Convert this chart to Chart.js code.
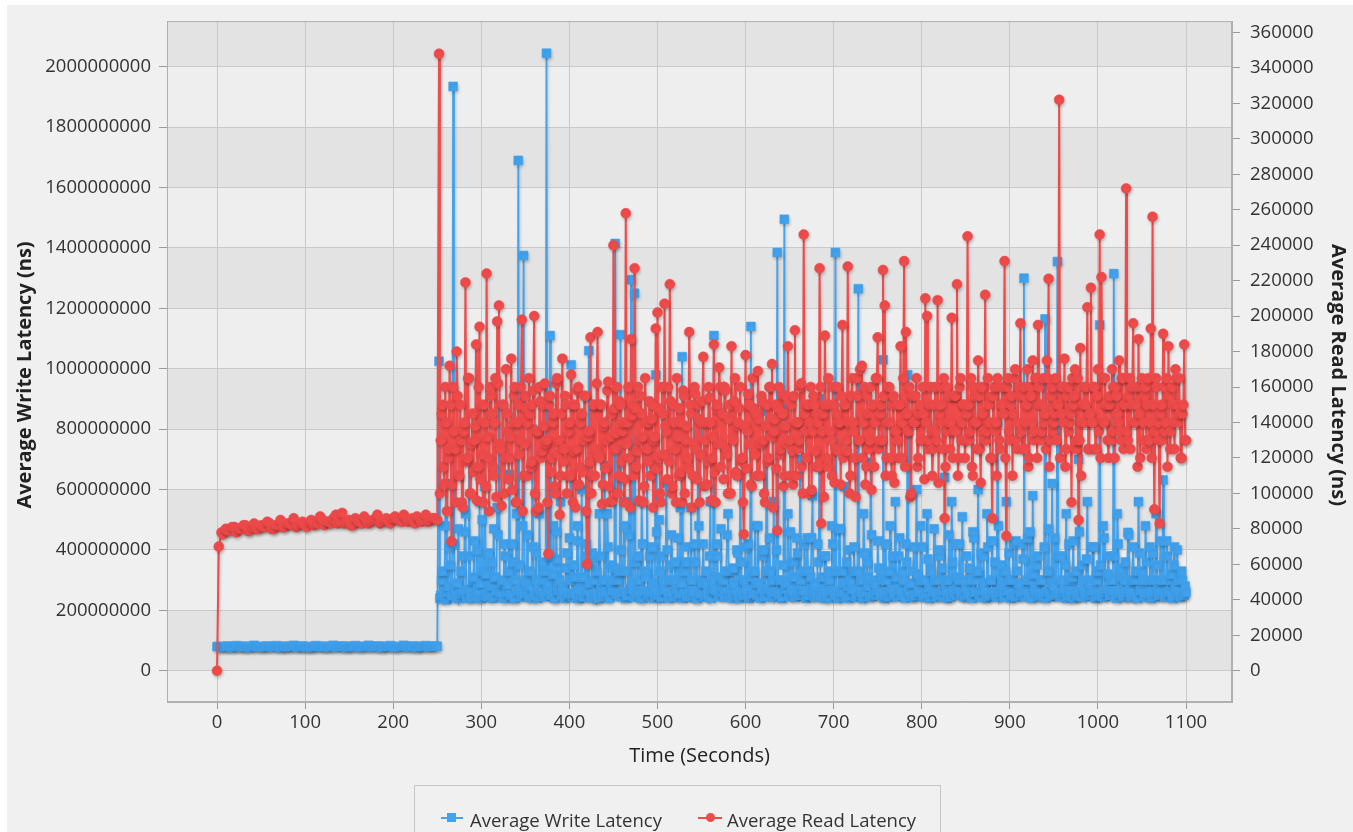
<!DOCTYPE html>
<html>
<head>
<meta charset="utf-8">
<script src="https://cdn.jsdelivr.net/npm/chart.js@4/dist/chart.umd.min.js"></script>
<style>
  html, body { margin: 0; padding: 0; background: #ffffff; overflow: hidden; }
  #wrap { position: relative; width: 1353px; height: 832px; }
  #c { position: absolute; left: 0; top: 0; }
  #legend { position: absolute; left: 414px; top: 785px; width: 527px; height: 60px;
    box-sizing: border-box; border: 1px solid #c6c6c6; font-family: "Open Sans", sans-serif;
    font-size: 18.5px; color: #333; }
  #legend .ln { position: absolute; height: 2px; }
  #legend .mk { position: absolute; width: 9px; height: 9px; }
  #legend .tx { position: absolute; top: 22px; line-height: 24px; white-space: nowrap; }
</style>
</head>
<body>
<div id="wrap">
  <canvas id="c" width="1353" height="832"></canvas>
  <div id="legend">
    <div class="ln" style="left:26px;top:31px;width:22px;background:#41a2ee"></div>
    <div class="mk" style="left:32px;top:27px;background:#41a2ee"></div>
    <div class="tx" id="lgW" style="left:55px"></div>
    <div class="ln" style="left:283px;top:31px;width:24px;background:#ef4b4b"></div>
    <div class="mk" style="left:291px;top:27px;background:#ef4b4b;border-radius:50%"></div>
    <div class="tx" id="lgR" style="left:312px"></div>
  </div>
</div>
<script>
// ---------------- data ----------------
const seriesNames = ["Average Write Latency", "Average Read Latency"];
const xTitle = "Time (Seconds)";
const yLeftTitle = "Average Write Latency (ns)";
const yRightTitle = "Average Read Latency (ns)";

// sample set A (even seconds in the busy phase)
const timeSecondsA = [
  0,2,5,10,15,20,25,30,35,40,45,50,55,60,65,70,75,80,85,90,95,100,105,110,115,120,125,
  130,135,140,145,150,155,160,165,170,175,180,185,190,195,200,205,210,215,220,225,230,235,240,245,250,
  252,254,256,258,260,262,264,266,268,270,
  272,274,276,278,280,282,284,286,288,290,
  292,294,296,298,300,302,304,306,308,310,
  312,314,316,318,320,322,324,326,328,330,
  332,334,336,338,340,342,344,346,348,350,
  352,354,356,358,360,362,364,366,368,370,
  372,374,376,378,380,382,384,386,388,390,
  392,394,396,398,400,402,404,406,408,410,
  412,414,416,418,420,422,424,426,428,430,
  432,434,436,438,440,442,444,446,448,450,
  452,454,456,458,460,462,464,466,468,470,
  472,474,476,478,480,482,484,486,488,490,
  492,494,496,498,500,502,504,506,508,510,
  512,514,516,518,520,522,524,526,528,530,
  532,534,536,538,540,542,544,546,548,550,
  552,554,556,558,560,562,564,566,568,570,
  572,574,576,578,580,582,584,586,588,590,
  592,594,596,598,600,602,604,606,608,610,
  612,614,616,618,620,622,624,626,628,630,
  632,634,636,638,640,642,644,646,648,650,
  652,654,656,658,660,662,664,666,668,670,
  672,674,676,678,680,682,684,686,688,690,
  692,694,696,698,700,702,704,706,708,710,
  712,714,716,718,720,722,724,726,728,730,
  732,734,736,738,740,742,744,746,748,750,
  752,754,756,758,760,762,764,766,768,770,
  772,774,776,778,780,782,784,786,788,790,
  792,794,796,798,800,802,804,806,808,810,
  812,814,816,818,820,822,824,826,828,830,
  832,834,836,838,840,842,844,846,848,850,
  852,854,856,858,860,862,864,866,868,870,
  872,874,876,878,880,882,884,886,888,890,
  892,894,896,898,900,902,904,906,908,910,
  912,914,916,918,920,922,924,926,928,930,
  932,934,936,938,940,942,944,946,948,950,
  952,954,956,958,960,962,964,966,968,970,
  972,974,976,978,980,982,984,986,988,990,
  992,994,996,998,1000,1002,1004,1006,1008,1010,
  1012,1014,1016,1018,1020,1022,1024,1026,1028,1030,
  1032,1034,1036,1038,1040,1042,1044,1046,1048,1050,
  1052,1054,1056,1058,1060,1062,1064,1066,1068,1070,
  1072,1074,1076,1078,1080,1082,1084,1086,1088,1090,
  1092,1094,1096,1098,1100
];

const writeLatencyNsA = [
  80e6,80e6,79e6,80e6,79e6,80e6,80e6,79e6,80e6,80e6,
  79e6,80e6,80e6,80e6,79e6,80e6,80e6,79e6,80e6,80e6,
  80e6,79e6,80e6,80e6,80e6,79e6,80e6,80e6,79e6,80e6,
  80e6,80e6,79e6,80e6,80e6,80e6,79e6,80e6,79e6,80e6,
  80e6,80e6,79e6,80e6,80e6,79e6,80e6,80e6,80e6,79e6,
  80e6,81e6,
  1025e6,250e6,330e6,240e6,620e6,260e6,410e6,245e6,1935e6,280e6,
  240e6,470e6,255e6,380e6,265e6,520e6,240e6,700e6,250e6,300e6,
  430e6,245e6,270e6,560e6,240e6,330e6,610e6,255e6,390e6,250e6,
  280e6,470e6,245e6,540e6,880e6,260e6,300e6,420e6,240e6,285e6,
  650e6,250e6,360e6,240e6,520e6,1690e6,270e6,245e6,1375e6,300e6,
  450e6,245e6,280e6,800e6,255e6,390e6,240e6,520e6,265e6,300e6,
  330e6,2045e6,260e6,1110e6,250e6,480e6,240e6,370e6,265e6,560e6,
  280e6,245e6,340e6,250e6,440e6,1013e6,255e6,310e6,240e6,430e6,
  270e6,600e6,245e6,380e6,260e6,1060e6,250e6,390e6,300e6,240e6,
  250e6,520e6,275e6,245e6,680e6,260e6,410e6,240e6,350e6,300e6,
  1415e6,255e6,330e6,1113e6,245e6,480e6,260e6,250e6,560e6,1295e6,
  270e6,1250e6,245e6,380e6,265e6,560e6,240e6,330e6,720e6,255e6,
  245e6,410e6,270e6,980e6,250e6,500e6,240e6,380e6,265e6,620e6,
  250e6,300e6,450e6,245e6,360e6,270e6,245e6,540e6,1040e6,255e6,
  360e6,245e6,270e6,540e6,250e6,420e6,240e6,780e6,260e6,300e6,
  420e6,250e6,290e6,245e6,560e6,270e6,1110e6,265e6,380e6,245e6,
  470e6,280e6,250e6,330e6,520e6,245e6,270e6,340e6,250e6,400e6,
  245e6,650e6,260e6,300e6,410e6,250e6,240e6,1140e6,255e6,330e6,
  290e6,480e6,250e6,270e6,400e6,245e6,860e6,270e6,330e6,245e6,
  560e6,260e6,1385e6,250e6,300e6,245e6,1495e6,270e6,520e6,245e6,
  275e6,360e6,245e6,440e6,260e6,700e6,250e6,265e6,330e6,440e6,
  250e6,310e6,580e6,245e6,260e6,420e6,900e6,245e6,270e6,380e6,
  255e6,330e6,240e6,480e6,265e6,1385e6,250e6,470e6,245e6,330e6,
  610e6,245e6,280e6,400e6,250e6,270e6,330e6,245e6,1265e6,260e6,
  260e6,520e6,245e6,360e6,280e6,690e6,245e6,300e6,250e6,430e6,
  265e6,330e6,1030e6,250e6,300e6,245e6,480e6,270e6,250e6,560e6,
  245e6,380e6,270e6,330e6,250e6,420e6,980e6,260e6,245e6,330e6,
  245e6,600e6,265e6,300e6,410e6,250e6,245e6,520e6,275e6,340e6,
  245e6,470e6,260e6,300e6,380e6,250e6,245e6,640e6,270e6,300e6,
  245e6,560e6,265e6,420e6,250e6,300e6,260e6,510e6,245e6,275e6,
  250e6,340e6,245e6,460e6,260e6,300e6,600e6,250e6,245e6,380e6,
  270e6,520e6,245e6,300e6,430e6,260e6,250e6,820e6,245e6,350e6,
  280e6,245e6,560e6,265e6,300e6,250e6,420e6,245e6,330e6,270e6,
  250e6,420e6,1300e6,265e6,440e6,245e6,300e6,580e6,270e6,245e6,
  380e6,250e6,300e6,245e6,1165e6,260e6,470e6,245e6,620e6,280e6,
  250e6,1355e6,255e6,380e6,245e6,270e6,520e6,250e6,300e6,245e6,
  430e6,260e6,245e6,700e6,250e6,350e6,270e6,245e6,560e6,300e6,
  250e6,410e6,265e6,245e6,330e6,1145e6,250e6,480e6,245e6,270e6,
  380e6,250e6,300e6,1315e6,245e6,520e6,260e6,340e6,245e6,300e6,
  250e6,458e6,270e6,245e6,410e6,300e6,245e6,560e6,265e6,330e6,
  250e6,480e6,245e6,300e6,260e6,390e6,245e6,520e6,270e6,300e6,
  250e6,632e6,245e6,430e6,260e6,300e6,245e6,350e6,280e6,400e6,
  260e6,245e6,300e6,250e6,260e6
];

const readLatencyNsA = [
  0,70000,78000,80000,79000,81000,80000,82000,79000,81000,
  80000,82000,81000,83000,80000,82000,81000,83000,82000,81000,
  83000,82000,84000,82000,83000,85000,84000,83000,88000,84000,
  83000,85000,82000,84000,83000,85000,84000,86000,83000,85000,
  84000,86000,85000,84000,86000,85000,83000,86000,85000,84000,
  86000,85000,
  348000,130000,150000,105000,140000,120000,172000,73000,160000,125000,
  180000,110000,150000,95000,135000,219000,120000,165000,100000,145000,
  130000,184000,115000,194000,150000,95000,140000,224000,120000,160000,
  145000,110000,165000,197000,206000,125000,150000,100000,170000,135000,
  120000,176000,140000,160000,95000,150000,130000,198000,110000,155000,
  140000,165000,115000,150000,200000,90000,135000,160000,120000,150000,
  162000,130000,66000,155000,120000,145000,100000,165000,130000,110000,
  176000,125000,150000,110000,140000,167000,95000,150000,125000,160000,
  115000,145000,130000,155000,60000,135000,188000,110000,150000,125000,
  191000,120000,150000,105000,140000,130000,163000,95000,145000,240000,
  125000,160000,110000,150000,135000,95000,258000,140000,120000,187000,
  150000,227000,115000,160000,130000,145000,95000,165000,125000,140000,
  110000,150000,130000,193000,202000,120000,95000,145000,207000,135000,
  160000,218000,100000,150000,125000,165000,110000,140000,95000,155000,
  130000,120000,191000,145000,110000,160000,125000,150000,95000,140000,
  177000,130000,105000,160000,140000,120000,184000,95000,150000,171000,
  115000,145000,160000,125000,100000,150000,183000,130000,165000,110000,
  140000,160000,120000,77000,178000,135000,150000,105000,165000,125000,
  145000,169000,110000,155000,130000,95000,150000,120000,160000,173000,
  135000,150000,79000,160000,125000,145000,110000,155000,183000,130000,
  150000,105000,192000,140000,125000,160000,115000,246000,135000,150000,
  100000,160000,135000,150000,115000,140000,227000,83000,145000,189000,
  120000,165000,135000,110000,150000,125000,160000,140000,105000,195000,
  150000,130000,228000,100000,155000,140000,120000,165000,130000,170000,
  172000,140000,105000,155000,125000,160000,145000,115000,165000,188000,
  130000,150000,226000,206000,120000,160000,140000,110000,155000,135000,
  150000,120000,183000,140000,231000,191000,135000,160000,100000,155000,
  140000,165000,120000,150000,130000,145000,210000,200000,130000,160000,
  110000,150000,135000,209000,145000,160000,125000,86000,160000,140000,
  125000,199000,135000,155000,218000,120000,165000,140000,150000,130000,
  245000,130000,165000,110000,155000,140000,175000,125000,160000,135000,
  212000,135000,150000,120000,86000,160000,140000,165000,130000,150000,
  160000,231000,76000,165000,130000,155000,145000,170000,125000,160000,
  196000,125000,160000,140000,170000,120000,155000,175000,135000,165000,
  195000,150000,135000,165000,145000,175000,221000,130000,160000,140000,
  165000,150000,322000,145000,160000,176000,125000,160000,140000,95000,
  150000,170000,130000,85000,182000,140000,160000,150000,205000,125000,
  216000,140000,160000,125000,170000,246000,222000,140000,165000,150000,
  120000,155000,170000,135000,160000,145000,175000,130000,165000,150000,
  272000,130000,165000,150000,196000,140000,160000,187000,120000,165000,
  140000,160000,150000,130000,193000,256000,91000,165000,140000,83000,
  150000,190000,135000,165000,183000,125000,160000,140000,170000,150000,
  165000,120000,145000,184000,130000
];

// sample set B (in-between samples)
const timeSecondsB = [
  7,12,17,22,27,32,37,42,47,52,57,62,67,72,77,82,87,92,97,102,107,112,117,122,127,
  132,137,142,147,152,157,162,167,172,177,182,187,192,197,202,207,212,217,222,227,232,237,242,247,
  253,255,257,259,261,263,265,267,269,271,
  273,275,277,279,281,283,285,287,289,291,
  293,295,297,299,301,303,305,307,309,311,
  313,315,317,319,321,323,325,327,329,331,
  333,335,337,339,341,343,345,347,349,351,
  353,355,357,359,361,363,365,367,369,371,
  373,375,377,379,381,383,385,387,389,391,
  393,395,397,399,401,403,405,407,409,411,
  413,415,417,419,421,423,425,427,429,431,
  433,435,437,439,441,443,445,447,449,451,
  453,455,457,459,461,463,465,467,469,471,
  473,475,477,479,481,483,485,487,489,491,
  493,495,497,499,501,503,505,507,509,511,
  513,515,517,519,521,523,525,527,529,531,
  533,535,537,539,541,543,545,547,549,551,
  553,555,557,559,561,563,565,567,569,571,
  573,575,577,579,581,583,585,587,589,591,
  593,595,597,599,601,603,605,607,609,611,
  613,615,617,619,621,623,625,627,629,631,
  633,635,637,639,641,643,645,647,649,651,
  653,655,657,659,661,663,665,667,669,671,
  673,675,677,679,681,683,685,687,689,691,
  693,695,697,699,701,703,705,707,709,711,
  713,715,717,719,721,723,725,727,729,731,
  733,735,737,739,741,743,745,747,749,751,
  753,755,757,759,761,763,765,767,769,771,
  773,775,777,779,781,783,785,787,789,791,
  793,795,797,799,801,803,805,807,809,811,
  813,815,817,819,821,823,825,827,829,831,
  833,835,837,839,841,843,845,847,849,851,
  853,855,857,859,861,863,865,867,869,871,
  873,875,877,879,881,883,885,887,889,891,
  893,895,897,899,901,903,905,907,909,911,
  913,915,917,919,921,923,925,927,929,931,
  933,935,937,939,941,943,945,947,949,951,
  953,955,957,959,961,963,965,967,969,971,
  973,975,977,979,981,983,985,987,989,991,
  993,995,997,999,1001,1003,1005,1007,1009,1011,
  1013,1015,1017,1019,1021,1023,1025,1027,1029,1031,
  1033,1035,1037,1039,1041,1043,1045,1047,1049,1051,
  1053,1055,1057,1059,1061,1063,1065,1067,1069,1071,
  1073,1075,1077,1079,1081,1083,1085,1087,1089,1091,
  1093,1095,1097,1099
];

const writeLatencyNsB = [
  78e6,82e6,77e6,83e6,79e6,81e6,76e6,84e6,80e6,78e6,
  82e6,79e6,83e6,77e6,81e6,80e6,84e6,78e6,82e6,79e6,
  77e6,83e6,80e6,81e6,78e6,84e6,79e6,82e6,77e6,81e6,
  83e6,78e6,80e6,84e6,79e6,82e6,77e6,81e6,83e6,78e6,
  80e6,84e6,79e6,82e6,77e6,81e6,83e6,80e6,82e6,
  240e6,300e6,260e6,480e6,235e6,280e6,350e6,250e6,420e6,265e6,
  290e6,240e6,330e6,255e6,460e6,245e6,270e6,380e6,240e6,310e6,
  255e6,400e6,240e6,290e6,500e6,250e6,320e6,245e6,280e6,360e6,
  240e6,310e6,265e6,450e6,250e6,290e6,240e6,380e6,260e6,330e6,
  250e6,420e6,240e6,300e6,265e6,350e6,245e6,480e6,255e6,290e6,
  260e6,330e6,240e6,410e6,250e6,300e6,270e6,245e6,360e6,255e6,
  245e6,290e6,380e6,250e6,320e6,240e6,460e6,265e6,300e6,250e6,
  270e6,240e6,390e6,255e6,300e6,245e6,350e6,260e6,480e6,240e6,
  250e6,310e6,245e6,420e6,265e6,290e6,240e6,360e6,255e6,330e6,
  240e6,380e6,260e6,300e6,245e6,520e6,250e6,290e6,265e6,340e6,
  255e6,300e6,245e6,400e6,260e6,330e6,240e6,450e6,270e6,290e6,
  245e6,360e6,255e6,300e6,240e6,420e6,265e6,310e6,250e6,380e6,
  260e6,290e6,240e6,460e6,250e6,330e6,245e6,300e6,270e6,400e6,
  240e6,350e6,260e6,300e6,245e6,440e6,255e6,290e6,240e6,330e6,
  250e6,410e6,245e6,300e6,265e6,360e6,240e6,480e6,255e6,290e6,
  245e6,330e6,260e6,380e6,240e6,300e6,270e6,420e6,250e6,310e6,
  260e6,300e6,245e6,450e6,255e6,330e6,240e6,290e6,265e6,390e6,
  240e6,360e6,250e6,300e6,270e6,420e6,245e6,310e6,255e6,480e6,
  250e6,290e6,240e6,380e6,260e6,330e6,245e6,440e6,265e6,300e6,
  245e6,400e6,255e6,300e6,240e6,350e6,270e6,290e6,250e6,460e6,
  260e6,310e6,245e6,390e6,250e6,300e6,265e6,420e6,240e6,330e6,
  250e6,440e6,260e6,290e6,245e6,360e6,255e6,310e6,240e6,380e6,
  245e6,300e6,265e6,420e6,250e6,330e6,240e6,470e6,260e6,290e6,
  255e6,360e6,240e6,300e6,270e6,410e6,245e6,330e6,250e6,300e6,
  240e6,390e6,260e6,310e6,245e6,450e6,255e6,290e6,265e6,340e6,
  250e6,300e6,240e6,420e6,260e6,330e6,245e6,380e6,255e6,310e6,
  265e6,440e6,250e6,300e6,240e6,360e6,270e6,290e6,245e6,410e6,
  250e6,320e6,260e6,480e6,245e6,300e6,255e6,370e6,240e6,330e6,
  260e6,300e6,245e6,400e6,250e6,340e6,265e6,290e6,240e6,450e6,
  245e6,360e6,255e6,310e6,270e6,420e6,250e6,300e6,245e6,380e6,
  255e6,300e6,240e6,440e6,260e6,330e6,245e6,390e6,265e6,290e6,
  240e6,410e6,250e6,300e6,255e6,360e6,245e6,480e6,260e6,310e6,
  250e6,330e6,265e6,390e6,240e6,300e6,255e6,430e6,245e6,290e6,
  260e6,370e6,245e6,300e6,250e6,460e6,240e6,320e6,265e6,350e6,
  245e6,300e6,255e6,410e6,240e6,330e6,270e6,290e6,250e6,440e6,
  255e6,380e6,245e6,300e6,260e6,350e6,240e6,420e6,265e6,310e6,
  240e6,330e6,250e6,460e6,245e6,300e6,260e6,370e6,255e6,290e6,
  265e6,410e6,240e6,300e6,250e6,350e6,245e6,440e6,260e6,320e6,
  250e6,300e6,265e6,380e6,240e6,420e6,255e6,310e6,245e6,360e6,
  260e6,450e6,245e6,300e6,250e6,330e6,240e6,390e6,265e6,300e6,
  245e6,360e6,255e6,410e6,240e6,300e6,260e6,350e6,250e6,430e6,
  255e6,300e6,245e6,380e6,260e6,320e6,240e6,410e6,250e6,300e6,
  245e6,330e6,255e6,280e6
];

const readLatencyNsB = [
  77000,79000,81000,78000,80000,82000,79000,83000,80000,81000,
  84000,80000,82000,85000,81000,83000,86000,82000,84000,81000,
  85000,83000,87000,82000,84000,86000,83000,89000,84000,82000,
  86000,84000,87000,83000,85000,88000,84000,86000,83000,87000,
  85000,88000,84000,86000,87000,84000,88000,85000,86000,
  100000,145000,115000,160000,90000,125000,150000,105000,135000,95000,
  155000,110000,130000,92000,140000,118000,165000,100000,128000,112000,
  138000,96000,160000,108000,122000,150000,104000,132000,90000,155000,
  115000,140000,98000,162000,128000,93000,150000,120000,145000,108000,
  132000,102000,155000,95000,140000,122000,160000,90000,128000,148000,
  110000,145000,118000,158000,100000,135000,92000,152000,124000,138000,
  128000,95000,150000,112000,140000,104000,162000,122000,88000,145000,
  118000,155000,100000,135000,110000,150000,124000,92000,158000,105000,
  140000,112000,155000,90000,132000,118000,100000,150000,110000,162000,
  122000,150000,94000,138000,114000,158000,104000,132000,96000,148000,
  134000,100000,152000,118000,140000,108000,128000,160000,92000,144000,
  110000,148000,124000,96000,155000,132000,104000,140000,118000,152000,
  142000,92000,132000,114000,148000,100000,160000,122000,138000,108000,
  118000,152000,104000,140000,95000,132000,148000,112000,158000,100000,
  138000,114000,150000,92000,128000,156000,108000,142000,122000,152000,
  104000,140000,118000,154000,96000,132000,112000,148000,128000,160000,
  128000,108000,158000,122000,142000,100000,132000,152000,112000,138000,
  148000,118000,95000,138000,114000,156000,128000,104000,148000,122000,
  110000,142000,128000,152000,100000,138000,118000,160000,132000,92000,
  142000,114000,148000,122000,156000,104000,138000,128000,152000,110000,
  124000,155000,110000,140000,130000,162000,100000,145000,120000,150000,
  140000,102000,155000,124000,145000,115000,160000,135000,98000,150000,
  115000,150000,130000,160000,106000,145000,124000,140000,155000,120000,
  150000,124000,140000,110000,165000,135000,98000,155000,130000,145000,
  120000,160000,115000,145000,130000,102000,150000,140000,165000,125000,
  145000,130000,155000,110000,140000,160000,120000,150000,106000,135000,
  130000,150000,120000,165000,115000,145000,135000,98000,155000,140000,
  155000,115000,145000,130000,160000,108000,140000,125000,150000,135000,
  125000,160000,130000,106000,150000,140000,165000,115000,135000,155000,
  140000,120000,155000,135000,110000,160000,130000,150000,120000,145000,
  150000,135000,115000,160000,140000,125000,155000,106000,145000,130000,
  130000,165000,140000,120000,155000,135000,110000,160000,125000,150000,
  145000,120000,160000,135000,150000,110000,165000,130000,140000,155000,
  135000,155000,125000,150000,115000,160000,140000,130000,165000,120000,
  160000,130000,150000,140000,125000,165000,115000,155000,135000,145000,
  130000,150000,120000,160000,140000,115000,155000,135000,145000,165000,
  155000,125000,165000,130000,110000,150000,140000,160000,125000,145000,
  140000,160000,125000,155000,135000,120000,165000,140000,150000,130000,
  150000,130000,160000,120000,155000,140000,135000,165000,125000,150000,
  135000,155000,125000,160000,140000,150000,115000,145000,160000,130000,
  155000,125000,165000,140000,120000,150000,135000,160000,130000,145000,
  130000,160000,140000,115000,155000,135000,150000,125000,165000,140000,
  145000,120000,150000,130000
];

const xTicksShown = [0,100,200,300,400,500,600,700,800,900,1000,1100];
const yLeftTicksShown = [0,200e6,400e6,600e6,800e6,1000e6,1200e6,1400e6,1600e6,1800e6,2000e6];
const yRightTicksShown = [0,20000,40000,60000,80000,100000,120000,140000,160000,180000,200000,
  220000,240000,260000,280000,300000,320000,340000,360000];

// ---------------- styles ----------------
const BLUE = '#41a2ee';
const RED = '#ef4b4b';
const FONT = '"Open Sans", sans-serif';

document.getElementById('lgW').textContent = seriesNames[0];
document.getElementById('lgR').textContent = seriesNames[1];

const bgPlugin = {
  id: 'bg',
  beforeDraw(chart) {
    const {ctx, chartArea: a, scales} = chart;
    ctx.save();
    ctx.fillStyle = '#ffffff';
    ctx.fillRect(0, 0, chart.width, chart.height);
    ctx.fillStyle = '#f0f0f0';
    ctx.fillRect(7, 5, chart.width - 7, chart.height - 5);
    ctx.fillStyle = '#eeeeee';
    ctx.fillRect(a.left, a.top, a.right - a.left, a.bottom - a.top);
    ctx.beginPath();
    ctx.rect(a.left, a.top, a.right - a.left, a.bottom - a.top);
    ctx.clip();
    ctx.fillStyle = '#e3e3e3';
    const y = scales.y;
    for (let i = 0; i < yLeftTicksShown.length; i += 2) {
      const v0 = yLeftTicksShown[i];
      const v1 = i + 1 < yLeftTicksShown.length ? yLeftTicksShown[i + 1] : y.max;
      const p0 = y.getPixelForValue(v0), p1 = y.getPixelForValue(v1);
      ctx.fillRect(a.left, p1, a.right - a.left, p0 - p1);
    }
    ctx.restore();
  },
  beforeDatasetsDraw(chart) {
    const ctx = chart.ctx;
    ctx.save();
    ctx.shadowColor = 'rgba(0,0,0,0.2)';
    ctx.shadowBlur = 3;
    ctx.shadowOffsetX = 1;
    ctx.shadowOffsetY = 2;
  },
  afterDatasetsDraw(chart) {
    chart.ctx.restore();
  },
  afterDraw(chart) {
    const {ctx, chartArea: a} = chart;
    ctx.save();
    ctx.strokeStyle = '#b0b0b0';
    ctx.lineWidth = 1;
    ctx.strokeRect(a.left + 0.5, a.top + 0.5, a.right - a.left - 1, a.bottom - a.top - 1);
    ctx.fillStyle = '#222';
    ctx.font = 'bold 20px ' + FONT;
    ctx.textAlign = 'center';
    ctx.textBaseline = 'middle';
    ctx.translate(25, 375);
    ctx.rotate(-Math.PI / 2);
    ctx.fillText(yLeftTitle, 0, 0);
    ctx.restore();
    ctx.save();
    ctx.fillStyle = '#222';
    ctx.font = 'bold 20px ' + FONT;
    ctx.textAlign = 'center';
    ctx.textBaseline = 'middle';
    ctx.translate(1338, 375);
    ctx.rotate(Math.PI / 2);
    ctx.fillText(yRightTitle, 0, 0);
    ctx.restore();
  }
};

function setTicks(list) {
  return function (scale) {
    scale.ticks = list.map(v => ({ value: v }));
  };
}

// merge both sample sets into one time-ordered series per metric
function mergeSeries(tA, vA, tB, vB) {
  const pts = tA.map((t, i) => ({x: t, y: vA[i]})).concat(tB.map((t, i) => ({x: t, y: vB[i]})));
  pts.sort((p, q) => p.x - q.x);
  return pts;
}

function build() {
  const writePts = mergeSeries(timeSecondsA, writeLatencyNsA, timeSecondsB, writeLatencyNsB);
  const readPts = mergeSeries(timeSecondsA, readLatencyNsA, timeSecondsB, readLatencyNsB);
  const tickFont = {family: FONT, size: 18.5};
  new Chart(document.getElementById('c'), {
    type: 'line',
    data: {
      datasets: [
        { label: seriesNames[0], data: writePts, yAxisID: 'y', order: 1,
          borderColor: BLUE, backgroundColor: BLUE, borderWidth: 1.8,
          pointStyle: 'rect', pointRadius: 6.3, pointBorderWidth: 0.5,
          pointBackgroundColor: BLUE, pointBorderColor: BLUE, tension: 0 },
        { label: seriesNames[1], data: readPts, yAxisID: 'y1', order: 0,
          borderColor: RED, backgroundColor: RED, borderWidth: 2,
          pointStyle: 'circle', pointRadius: 5, pointBorderWidth: 0.5,
          pointBackgroundColor: RED, pointBorderColor: RED, tension: 0 }
      ]
    },
    options: {
      responsive: false,
      animation: false,
      events: [],
      layout: { padding: { left: 0, right: 0, top: 21, bottom: 60 } },
      plugins: { legend: { display: false }, tooltip: { enabled: false } },
      scales: {
        x: {
          type: 'linear', position: 'bottom', min: -56.8, max: 1152.2,
          afterBuildTicks: setTicks(xTicksShown),
          afterFit(s) { s.height = 70; },
          ticks: { font: tickFont, color: '#333', padding: 3, maxRotation: 0, autoSkip: false,
                   callback: v => String(v) },
          grid: { color: '#c9c9c9', lineWidth: 1, tickLength: 7, tickColor: '#9a9a9a' },
          border: { display: true, color: '#b0b0b0' },
          title: { display: true, text: xTitle, color: '#222',
                   font: { family: FONT, size: 20 }, padding: { top: 0, bottom: 4 } }
        },
        y: {
          type: 'linear', position: 'left', min: -103.6e6, max: 2151.3e6,
          afterBuildTicks: setTicks(yLeftTicksShown),
          afterFit(s) { s.width = 167; },
          ticks: { font: tickFont, color: '#333', padding: 8, autoSkip: false,
                   callback: v => String(Math.round(v)) },
          grid: { color: '#c9c9c9', lineWidth: 1, tickLength: 8, tickColor: '#9a9a9a' },
          border: { display: true, color: '#b0b0b0' },
          title: { display: false }
        },
        y1: {
          type: 'linear', position: 'right', min: -17651, max: 366372,
          afterBuildTicks: setTicks(yRightTicksShown),
          afterFit(s) { s.width = 121; },
          ticks: { font: tickFont, color: '#333', padding: 10, autoSkip: false,
                   callback: v => String(Math.round(v)) },
          grid: { drawOnChartArea: false, tickLength: 8, tickColor: '#9a9a9a' },
          border: { display: true, color: '#b0b0b0' },
          title: { display: false }
        }
      }
    },
    plugins: [bgPlugin]
  });
}

const fontReady = (document.fonts && document.fonts.load)
  ? Promise.all([document.fonts.load('18px "Open Sans"'), document.fonts.load('bold 20px "Open Sans"')]).catch(() => {})
  : Promise.resolve();
fontReady.then(build, build);
</script>
</body>
</html>
